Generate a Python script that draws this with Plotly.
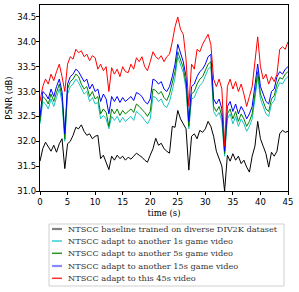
import plotly.graph_objects as go

time_s = [i * 0.5 for i in range(91)]

baseline_div2k = [
    31.60, 31.85, 31.98, 31.90, 31.80, 31.92, 31.78, 31.95, 32.05, 31.45,
    31.95, 32.00, 32.12, 32.28, 32.25, 32.33, 32.20, 32.12, 32.15, 32.05,
    32.10, 32.12, 31.65, 31.72, 31.58, 31.43, 31.70, 31.62, 31.72, 31.65,
    31.70, 31.62, 31.68, 31.64, 31.70, 31.76, 31.72, 31.68, 31.62, 31.58,
    31.72, 31.85, 32.06, 31.92, 31.96, 31.85, 31.80, 31.76, 32.30, 32.28,
    32.62, 32.45, 32.35, 32.25, 31.42, 32.10, 32.15, 32.05, 32.22, 32.18,
    32.25, 32.40, 32.30, 32.10, 31.80, 31.65, 31.50, 31.00, 31.72, 31.60,
    31.75, 31.62, 31.70, 31.55, 31.62, 31.48, 31.38, 31.70, 31.90, 32.40,
    32.05, 31.90, 31.75, 31.48, 31.78, 31.70, 31.80, 32.15, 32.22, 32.18,
    32.20,
]

adapt_1s = [
    32.35, 32.80, 32.75, 32.65, 32.85, 32.70, 32.88, 33.05, 32.80, 32.00,
    32.95, 33.10, 33.15, 33.25, 33.18, 33.05, 32.95, 33.00, 32.80, 32.88,
    32.75, 32.78, 32.45, 32.52, 32.45, 32.25, 32.50, 32.42, 32.50, 32.38,
    32.48, 32.40, 32.45, 32.50, 32.42, 32.60, 32.55, 32.50, 32.42, 32.35,
    32.45, 32.90, 32.88, 32.80, 32.85, 32.72, 32.68, 32.80, 33.02, 33.28,
    33.70, 33.52, 33.38, 33.05, 32.25, 32.85, 32.88, 33.02, 33.12, 33.18,
    33.30, 33.45, 33.50, 32.60, 32.50, 32.58, 32.40, 31.70, 32.45, 32.55,
    32.35, 32.50, 32.30, 32.45, 32.35, 32.20, 32.30, 32.45, 32.85, 33.30,
    32.85, 32.70, 32.55, 32.50, 32.75, 32.82, 33.05, 33.18, 33.15, 33.25,
    33.30,
]

adapt_5s = [
    32.40, 32.90, 32.85, 32.75, 32.95, 32.80, 32.98, 33.15, 32.90, 32.05,
    33.05, 33.20, 33.25, 33.35, 33.30, 33.15, 33.05, 33.10, 32.90, 33.00,
    32.85, 32.90, 32.55, 32.65, 32.58, 32.30, 32.65, 32.55, 32.65, 32.52,
    32.62, 32.55, 32.60, 32.65, 32.58, 32.75, 32.70, 32.65, 32.58, 32.50,
    32.60, 33.05, 33.02, 32.95, 33.00, 32.88, 32.82, 32.95, 33.15, 33.40,
    33.80, 33.62, 33.48, 33.15, 32.30, 32.95, 33.00, 33.15, 33.25, 33.30,
    33.42, 33.55, 33.60, 32.70, 32.60, 32.70, 32.50, 31.75, 32.55, 32.65,
    32.45, 32.60, 32.40, 32.55, 32.45, 32.30, 32.40, 32.55, 32.95, 33.40,
    32.95, 32.80, 32.65, 32.60, 32.85, 32.92, 33.15, 33.28, 33.25, 33.35,
    33.40,
]

adapt_15s = [
    32.50, 33.00, 32.95, 32.85, 33.05, 32.90, 33.10, 33.25, 33.00, 32.15,
    33.15, 33.30, 33.35, 33.45, 33.40, 33.30, 33.20, 33.25, 33.05, 33.15,
    33.00, 33.05, 32.80, 32.95, 32.85, 32.55, 32.90, 32.80, 32.90, 32.78,
    32.88, 32.80, 32.85, 32.90, 32.82, 32.98, 32.95, 32.90, 32.80, 32.75,
    32.85, 33.25, 33.22, 33.15, 33.20, 33.05, 33.00, 33.10, 33.30, 33.55,
    33.95, 33.75, 33.60, 33.30, 32.40, 33.10, 33.15, 33.30, 33.40, 33.45,
    33.55, 33.70, 33.75, 32.85, 32.75, 32.85, 32.65, 31.80, 32.70, 32.80,
    32.60, 32.75, 32.55, 32.70, 32.60, 32.45, 32.55, 32.70, 33.10, 33.55,
    33.10, 32.95, 32.80, 32.75, 33.00, 33.05, 33.30, 33.40, 33.35, 33.45,
    33.50,
]

adapt_45s = [
    32.80, 33.10, 33.25, 33.15, 33.35, 33.22, 33.40, 33.55, 33.30, 33.00,
    33.55, 33.70, 33.65, 33.85, 33.78, 33.82, 33.70, 33.75, 33.62, 33.72,
    33.68, 33.45, 33.55, 33.42, 33.50, 33.00, 33.48, 33.35, 33.45, 33.30,
    33.50, 33.40, 33.38, 33.55, 33.45, 33.68, 33.60, 33.70, 33.50, 33.42,
    33.60, 33.80, 33.70, 33.65, 33.72, 33.60, 33.70, 33.75, 34.00, 34.30,
    34.50, 34.25, 34.15, 33.65, 32.70, 33.55, 33.45, 33.85, 33.80, 33.95,
    34.05, 34.15, 33.95, 33.25, 33.10, 33.25, 33.05, 31.90, 33.10, 33.25,
    33.05, 33.20, 33.00, 33.15, 32.95, 32.70, 32.90, 33.10, 33.60, 34.10,
    33.50, 33.25, 33.35, 33.15, 33.30, 33.20, 33.35, 33.85, 33.90, 33.85,
    34.00,
]

series_names = [
    "NTSCC baseline trained on diverse DIV2K dataset",
    "NTSCC adapt to another 1s game video",
    "NTSCC adapt to another 5s game video",
    "NTSCC adapt to another 15s game video",
    "NTSCC adapt to this 45s video",
]
series_values = [baseline_div2k, adapt_1s, adapt_5s, adapt_15s, adapt_45s]
series_colors = ["#000000", "#17c4c4", "#008000", "#0000ff", "#ff0000"]
legend_colors = ["#808080", "#30d0d0", "#2a962a", "#8888ff", "#ff3030"]
legend_widths = [2.2, 1.5, 1.5, 2.2, 1.5]

y_ticks = [31.0, 31.5, 32.0, 32.5, 33.0, 33.5, 34.0, 34.5]
x_ticks = [0, 5, 10, 15, 20, 25, 30, 35, 40, 45]

# plot area in pixels: left 40, right 288, top 5, bottom 191
L, R, T, B = 40, 288, 5, 191
W, H = R - L, B - T
def px(xp):
    return (xp - L) / W
def py(yp):
    return (B - yp) / H

fig = go.Figure()
for name, vals, col in zip(series_names, series_values, series_colors):
    fig.add_trace(go.Scatter(x=time_s, y=vals, mode="lines", name=name,
                             line=dict(color=col, width=1), showlegend=False))

shapes = [dict(type="rect", xref="paper", yref="paper",
               x0=px(49), x1=px(284), y0=py(286), y1=py(224),
               line=dict(color="#d0d0d0", width=1), fillcolor="white", layer="above")]
annotations = []
entry_y = [229, 241, 253.3, 266, 278.3]
for name, col, lw, ey in zip(series_names, legend_colors, legend_widths, entry_y):
    shapes.append(dict(type="line", xref="paper", yref="paper",
                       x0=px(52), x1=px(62), y0=py(ey), y1=py(ey),
                       line=dict(color=col, width=lw), layer="above"))
    annotations.append(dict(xref="paper", yref="paper", x=px(66), y=py(ey),
                            xanchor="left", yanchor="middle", showarrow=False,
                            text=name, font=dict(family="DejaVu Serif", size=8.2, color="#333")))

fig.update_layout(
    width=299, height=292,
    margin=dict(l=L, r=299 - R, t=T, b=292 - B, autoexpand=False),
    paper_bgcolor="white", plot_bgcolor="white",
    font=dict(family="DejaVu Sans", size=8.5, color="black"),
    showlegend=False,
    shapes=shapes, annotations=annotations,
)
fig.update_xaxes(
    range=[0, 45], tickvals=x_ticks, ticks="outside", ticklen=3, tickwidth=1,
    tickcolor="black", showline=True, linecolor="black", linewidth=1.2,
    mirror=True, showgrid=False, zeroline=False, automargin=False,
    title=dict(text="time (s)", font=dict(family="DejaVu Serif", size=8.5), standoff=3),
)
fig.update_yaxes(
    range=[31.0, 34.74], tickvals=y_ticks, tickformat=".1f", ticks="outside",
    ticklen=3, tickwidth=1, tickcolor="black", showline=True, linecolor="black",
    linewidth=1.2, mirror=True, showgrid=False, zeroline=False, automargin=False,
    ticklabelstandoff=-2,
    title=dict(text="PSNR (dB)", font=dict(family="DejaVu Sans", size=8.5), standoff=3),
)

fig.write_html("out.html", config={"displayModeBar": False},
               post_script="document.body.style.margin='0';")
